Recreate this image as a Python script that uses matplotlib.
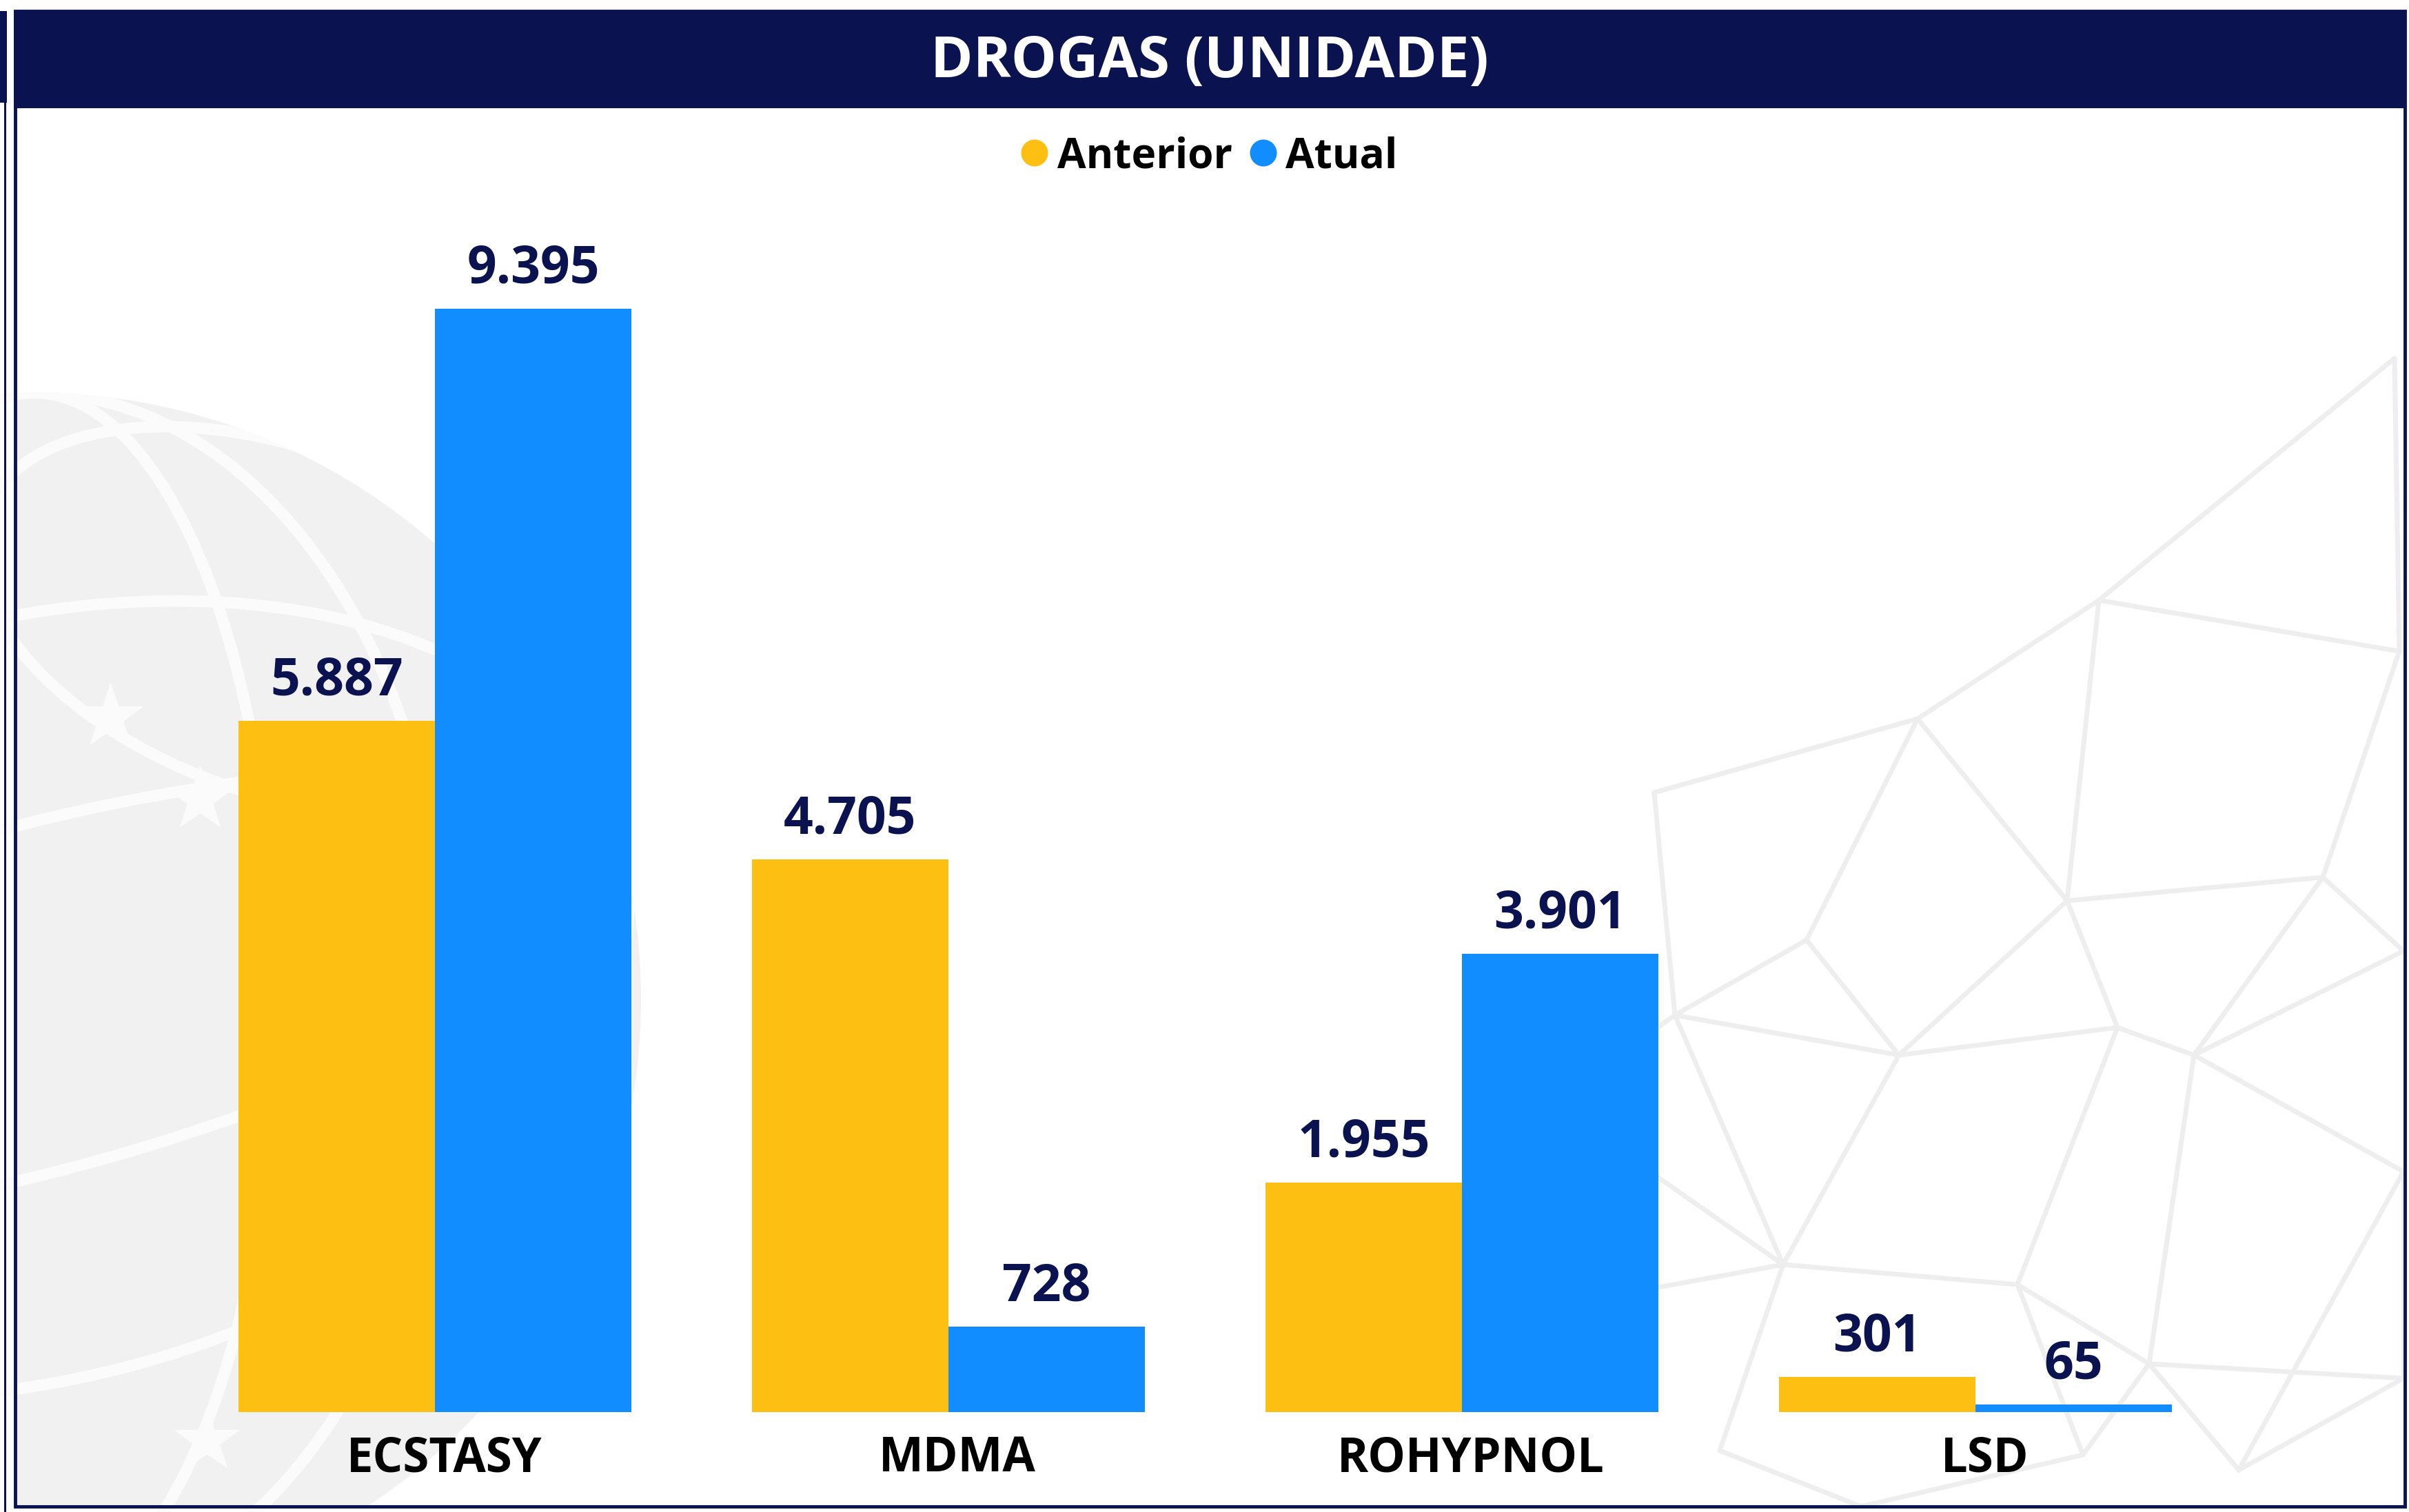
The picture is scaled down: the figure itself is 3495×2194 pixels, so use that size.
import matplotlib
matplotlib.use("Agg")
import matplotlib.pyplot as plt
import numpy as np
from matplotlib.patches import Rectangle, Circle, Ellipse

# dados do painel
categorias = ["ECSTASY", "MDMA", "ROHYPNOL", "LSD"]
anterior = [5887, 4705, 1955, 301]
atual = [9395, 728, 3901, 65]
rotulos_anterior = ["5.887", "4.705", "1.955", "301"]
rotulos_atual = ["9.395", "728", "3.901", "65"]
titulo = "DROGAS (UNIDADE)"
series = ["Anterior", "Atual"]

W, H = 3495, 2194
navy = "#0A1350"
amarelo = "#FDBF11"
azul = "#118DFF"
plt.rcParams["font.family"] = ["Open Sans", "DejaVu Sans"]

fig = plt.figure(figsize=(W / 100, H / 100), dpi=100)
fig.patch.set_facecolor("white")

# fundo decorativo (marca d'agua), em pixels
bg = fig.add_axes([0, 0, 1, 1], zorder=0)
bg.set_xlim(0, W)
bg.set_ylim(H, 0)
bg.axis("off")
painel = Rectangle((24, 157), 3463, 2029, transform=bg.transData)

globo = Circle((50, 1450), 880, facecolor="#F1F1F1", edgecolor="none")
bg.add_patch(globo)
globo.set_clip_path(painel)
for (cx, cy, w, h, ang) in [(50, 1450, 700, 1760, 0), (50, 1450, 1200, 1760, 0),
                            (50, 1450, 1760, 500, -15), (50, 1450, 1760, 1100, -15),
                            (400, 900, 900, 500, 20)]:
    e = Ellipse((cx, cy), w, h, angle=ang, facecolor="none", edgecolor="#FBFBFB", lw=12)
    bg.add_patch(e)
    e.set_clip_path(globo)
for sx, sy in [(160, 1040), (290, 1160), (300, 2090)]:
    bg.plot(sx, sy, marker="*", ms=70, color="#FBFBFB", mec="#FBFBFB")

nos = {
    "A": (3474, 520), "B": (3045, 871), "C": (2782, 1043), "D": (3481, 945),
    "E": (2999, 1307), "F": (3370, 1273), "G": (2621, 1364), "H": (2430, 1473),
    "I": (2755, 1531), "J": (3072, 1491), "K": (3183, 1531), "L": (2587, 1835),
    "M": (2927, 1864), "N": (3118, 1979), "O": (2495, 2105), "P": (3022, 2111),
    "Q": (3248, 2133), "R": (3487, 1380), "S": (3487, 1700), "T": (2230, 1900),
    "U": (2250, 1600), "V": (2400, 1150), "X": (3487, 2000), "Y": (2700, 2186),
}
arestas = ["AB", "BC", "BD", "BE", "CE", "CG", "EF", "DF", "AD", "GH", "GI", "HI",
           "IE", "IJ", "EJ", "JK", "FK", "FR", "KR", "IL", "LM", "MJ", "MN", "KN",
           "LO", "MP", "NP", "NQ", "KS", "QS", "HU", "UT", "LT", "UL", "CV", "VH",
           "QX", "PY", "OY", "NX", "SX", "HL"]
for a in arestas:
    (x1, y1), (x2, y2) = nos[a[0]], nos[a[1]]
    ln, = bg.plot([x1, x2], [y1, y2], color="#EEEEEE", lw=5, solid_capstyle="round")
    ln.set_clip_path(painel)

# moldura e faixa do titulo
fig.add_artist(Rectangle((0, 1 - 149 / H), 10 / W, 133 / H, transform=fig.transFigure,
                         facecolor=navy, edgecolor="none"))
fig.add_artist(Rectangle((6 / W, 0.5 / H), 3 / W, (H - 149) / H, transform=fig.transFigure,
                         facecolor=navy, edgecolor="none"))
fig.add_artist(Rectangle((22 / W, 8 / H), (3489 - 22) / W, (H - 16 - 8) / H,
                         transform=fig.transFigure, facecolor="none", edgecolor=navy, lw=3.5))
fig.add_artist(Rectangle((20 / W, 1 - 157 / H), (3491 - 20) / W, 141 / H,
                         transform=fig.transFigure, facecolor=navy, edgecolor="none"))
fig.text(1755 / W, 1 - 112 / H, titulo, color="white", fontsize=60, fontweight="bold",
         ha="center", va="baseline")

# legenda
for cx, tx, nome, cor in [(1501, 1534, series[0], amarelo), (1833, 1865, series[1], azul)]:
    fig.add_artist(Ellipse((cx / W, 1 - 222 / H), 39 / W, 39 / H, transform=fig.transFigure,
                           facecolor=cor, edgecolor="none"))
    fig.text(tx / W, 1 - 243 / H, nome, color="black", fontsize=43.5, fontweight="bold",
             ha="left", va="baseline")

# grafico de barras
ax = fig.add_axes([258.5 / W, (H - 2049) / H, 2980 / W, 1704 / H], zorder=2)
ax.patch.set_alpha(0)
x = np.arange(len(categorias))
larg = 0.383
b1 = ax.bar(x - larg / 2, anterior, larg, color=amarelo)
b2 = ax.bar(x + larg / 2, atual, larg, color=azul)
ax.set_xlim(-0.5, 3.5)
ax.set_ylim(0, 10000)
ax.axis("off")

for barras, rotulos in [(b1, rotulos_anterior), (b2, rotulos_atual)]:
    for b, r in zip(barras, rotulos):
        ax.annotate(r, (b.get_x() + b.get_width() / 2, b.get_height()),
                    xytext=(0, 27), textcoords="offset points", ha="center", va="baseline",
                    fontsize=54, fontweight="bold", color=navy)

for i, c in enumerate(categorias):
    ax.annotate(c, (i, 0), xytext=(9.5, -62), textcoords="offset points", ha="center",
                va="baseline", fontsize=49.5, fontweight="bold", color="black",
                annotation_clip=False)

fig.savefig("out.png", dpi=100)
